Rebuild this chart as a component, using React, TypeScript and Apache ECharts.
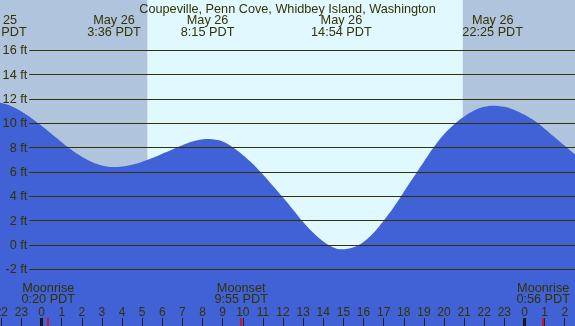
import React, { useEffect, useRef } from 'react';
import * as echarts from 'echarts';

// ---- data ----
const chartTitle = 'Coupeville, Penn Cove, Whidbey Island, Washington';

// hours relative to midnight starting May 26 (negative = May 25)
const tideHours = [
  -3, -2.25, -2, -1.5, -1, -0.5, 0, 0.5, 1, 1.5, 2, 2.5, 3, 3.6, 4, 4.5, 5, 5.5, 6, 6.5, 7, 7.5, 8, 8.25,
  8.5, 9, 9.5, 10, 10.5, 11, 11.5, 12, 12.5, 13, 13.5, 14, 14.5, 14.9, 15.5, 16, 16.5, 17, 17.5, 18,
  18.5, 19, 19.5, 20, 20.5, 21, 21.5, 22, 22.42, 23, 23.5, 24, 24.5, 25, 25.5, 26, 26.5, 27,
];
const tideFeet = [
  11.58, 11.7, 11.66, 11.4, 10.97, 10.42, 9.79, 9.12, 8.45, 7.81, 7.26, 6.82, 6.53, 6.41, 6.45, 6.6, 6.85, 7.15, 7.5, 7.85, 8.2, 8.5, 8.68, 8.71,
  8.68, 8.5, 8.03, 7.4, 6.65, 5.8, 4.85, 3.9, 2.9, 1.88, 1.0, 0.28, -0.2, -0.35, -0.18, 0.25, 1.0, 2.0, 3.1, 4.35,
  5.6, 6.85, 8.05, 9.1, 9.9, 10.55, 11.05, 11.35, 11.45, 11.35, 11.1, 10.7, 10.2, 9.55, 8.85, 8.15, 7.45, 6.75,
];

const extremeHours = [-2.25, 3.6, 8.25, 14.9, 22.42];
const extremeDates = ['May 25', 'May 26', 'May 26', 'May 26', 'May 26'];
const extremeTimes = ['21:45 PDT', '3:36 PDT', '8:15 PDT', '14:54 PDT', '22:25 PDT'];

const moonHours = [0.33, 9.92, 24.93];
const moonEvents = ['Moonrise', 'Moonset', 'Moonrise'];
const moonTimes = ['0:20 PDT', '9:55 PDT', '0:56 PDT'];

const sunriseHour = 5.27;
const sunsetHour = 20.93;
const midnightHours = [0, 24];
const heightTicks = [-2, 0, 2, 4, 6, 8, 10, 12, 14, 16];

// ---- layout ----
const W = 575;
const H = 326;
const X0 = 41.6; // pixel of hour 0
const PXH = 20.12; // pixels per hour
const Y0 = 245; // pixel of 0 ft
const PXF = 12.17; // pixels per foot
const HMIN = -3;
const HMAX = 27;
const gridLeft = X0 + HMIN * PXH;
const gridWidth = (HMAX - HMIN) * PXH;
const yMin = (Y0 - H) / PXF;
const yMax = Y0 / PXF;
const ft = (py: number) => (Y0 - py) / PXF;
const hr = (px: number) => (px - X0) / PXH;

const FONT = '"Liberation Sans", Arial, sans-serif';
const TEXT = '#333300';
const FS = 12.7;
const BLUE = '#4161d6';
const NIGHT = '#b0c4de';
const DAY = '#e0f8ff';

export default function App() {
  const ref = useRef<HTMLDivElement>(null);
  useEffect(() => {
    if (!ref.current) return;
    const chart = echarts.init(ref.current, undefined, { renderer: 'svg' });
    const tickFt = 8 / PXF;
    const lineStart = hr(29.3);

    const gridLines = heightTicks.map((v) => [
      {
        coord: [lineStart, v],
        lineStyle: { color: TEXT, width: 1, type: 'solid' },
        label: {
          show: true,
          position: 'start',
          distance: 2,
          formatter: `${v} ft`,
          color: TEXT,
          fontSize: FS,
          fontFamily: FONT,
        },
      },
      { coord: [HMAX, v] },
    ]);
    const midTicks = midnightHours.map((h) => [
      { coord: [h, yMin], lineStyle: { color: '#111', width: 3, type: 'solid' }, label: { show: false } },
      { coord: [h, yMin + tickFt] },
    ]);
    const moonTicks = moonHours.map((h) => [
      { coord: [h, yMin], lineStyle: { color: '#ee0000', width: 1.5, type: 'solid' }, label: { show: false } },
      { coord: [h, yMin + tickFt] },
    ]);

    const lbl = (text: string) => ({
      show: true,
      position: 'inside',
      formatter: text,
      color: TEXT,
      fontSize: FS,
      fontFamily: FONT,
    });
    const points: any[] = [];
    extremeHours.forEach((h, i) => {
      points.push({ coord: [h, ft(19.8)], label: lbl(extremeDates[i]) });
      points.push({ coord: [h, ft(31.8)], label: lbl(extremeTimes[i]) });
    });
    moonHours.forEach((h, i) => {
      points.push({ coord: [h, ft(287.5)], label: lbl(moonEvents[i]) });
      points.push({ coord: [h, ft(298.8)], label: lbl(moonTimes[i]) });
    });

    chart.setOption({
      animation: false,
      textStyle: { fontFamily: FONT },
      title: {
        text: chartTitle,
        left: 'center',
        top: 2,
        padding: 0,
        textStyle: { fontSize: FS, fontWeight: 'normal', color: TEXT, fontFamily: FONT },
      },
      grid: {
        left: gridLeft,
        width: gridWidth,
        top: 0,
        bottom: 0,
        containLabel: false,
        outerBoundsMode: 'none',
      },
      xAxis: {
        type: 'value',
        min: HMIN,
        max: HMAX,
        interval: 1,
        z: 10,
        axisLine: { show: false, onZero: false },
        splitLine: { show: false },
        axisTick: { show: true, inside: true, length: 8, lineStyle: { color: '#222', width: 1 } },
        axisLabel: {
          show: true,
          inside: true,
          margin: 8.5,
          interval: 0,
          hideOverlap: false,
          showMinLabel: true,
          showMaxLabel: true,
          fontSize: 12,
          color: TEXT,
          fontFamily: FONT,
          formatter: (v: number) => String(((Math.round(v) % 24) + 24) % 24),
        },
      },
      yAxis: {
        type: 'value',
        min: yMin,
        max: yMax,
        axisLine: { show: false },
        axisTick: { show: false },
        axisLabel: { show: false },
        splitLine: { show: false },
      },
      series: [
        {
          type: 'line',
          data: tideHours.map((h, i) => [h, tideFeet[i]]),
          smooth: 0.4,
          symbol: 'none',
          silent: true,
          lineStyle: { width: 0, color: BLUE },
          areaStyle: { color: BLUE, opacity: 1, origin: 'start' },
          markArea: {
            silent: true,
            label: { show: false },
            data: [
              [{ xAxis: HMIN, itemStyle: { color: NIGHT, opacity: 1 } }, { xAxis: sunriseHour }],
              [{ xAxis: sunriseHour, itemStyle: { color: DAY, opacity: 1 } }, { xAxis: sunsetHour }],
              [{ xAxis: sunsetHour, itemStyle: { color: NIGHT, opacity: 1 } }, { xAxis: HMAX }],
            ],
          },
          markLine: {
            silent: true,
            symbol: ['none', 'none'],
            label: { show: false },
            data: [...gridLines, ...midTicks, ...moonTicks],
          },
          markPoint: {
            silent: true,
            symbol: 'circle',
            symbolSize: 0,
            data: points,
          },
        },
      ],
    });
    return () => chart.dispose();
  }, []);
  return <div ref={ref} style={{ position: 'fixed', left: 0, top: 0, width: W, height: H }} />;
}
